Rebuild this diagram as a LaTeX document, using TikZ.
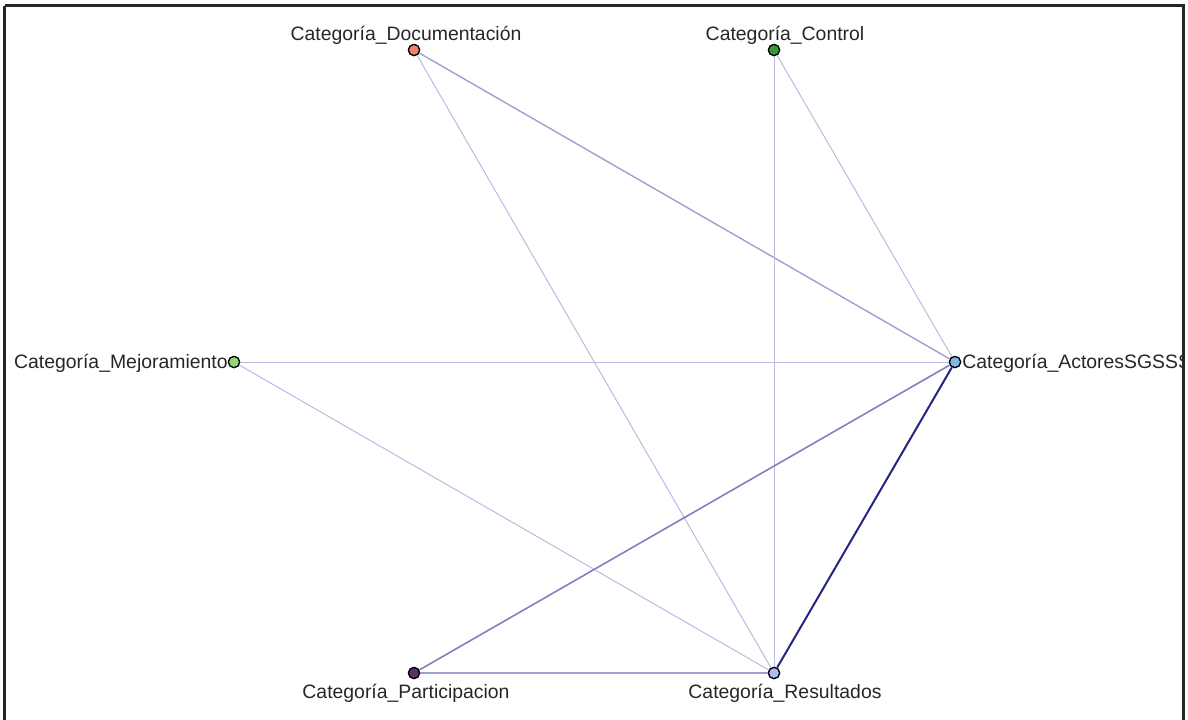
\documentclass[tikz,border=0pt]{standalone}
\usepackage{fontspec}
\setmainfont{Liberation Sans}
\usepackage{tikz}
\usetikzlibrary{positioning}
\definecolor{salmon}{RGB}{240, 128, 108}
\definecolor{leaf}{RGB}{56, 150, 60}
\definecolor{mint}{RGB}{150, 212, 120}
\definecolor{sky}{RGB}{128, 184, 232}
\definecolor{plum}{RGB}{88, 48, 108}
\definecolor{periwinkle}{RGB}{172, 188, 242}
\definecolor{lavender}{RGB}{186, 186, 226}
\definecolor{lilac}{RGB}{160, 160, 208}
\definecolor{iris}{RGB}{128, 128, 192}
\definecolor{navy}{RGB}{36, 36, 136}
\tikzstyle{cat} = [circle, draw=black, line width=0.6pt, inner sep=0pt, minimum size=5.6pt]
\tikzstyle{catlabel} = [draw=none, fill=none, inner sep=0pt, text=black!85, font=\fontsize{9.7pt}{11pt}\selectfont]
\tikzstyle{wedge} = [draw=lavender, line width=0.5pt]
\tikzstyle{medge} = [draw=lilac, line width=0.7pt]
\tikzstyle{sedge} = [draw=navy, line width=1pt]

\begin{document}
\begin{tikzpicture}[x=0.5pt, y=-0.5pt]
\useasboundingbox (0,0) rectangle (1188,719);

\begin{scope}
\clip (5.5,6.5) rectangle (1182.5,719);

% categories =============================
\node[cat, fill=salmon] (doc) at (414,50) {};
\node[cat, fill=leaf] (ctrl) at (774,50) {};
\node[cat, fill=mint] (mej) at (234,362) {};
\node[cat, fill=sky] (act) at (955,362) {};
\node[cat, fill=plum] (par) at (414,673) {};
\node[cat, fill=periwinkle] (res) at (774,673) {};

% edges
\path[wedge] (doc) -- (res);
\path[medge] (doc) -- (act);
\path[wedge] (ctrl) -- (act);
\path[wedge] (ctrl) -- (res);
\path[wedge] (mej) -- (act);
\path[wedge] (mej) -- (res);
\path[draw=iris, line width=0.8pt] (par) -- (act);
\path[medge, line width=0.9pt] (par) -- (res);
\path[sedge] (act) -- (res);

% redraw nodes over edges
\foreach \n/\c in {doc/salmon, ctrl/leaf, mej/mint, act/sky, par/plum, res/periwinkle}
  \node[cat, fill=\c] at (\n) {};

% labels
\node[catlabel, anchor=base] (docl) at (406,40) {Categoría\_Documentación};
\node[catlabel, anchor=base] (ctrll) at (785,40) {Categoría\_Control};
\node[catlabel, anchor=base east] (mejl) at (228,368) {Categoría\_Mejoramiento};
\node[catlabel, anchor=base west] (actl) at (962,368) {Categoría\_ActoresSGSSS};
\node[catlabel, anchor=base] (parl) at (406,698) {Categoría\_Participacion};
\node[catlabel, anchor=base] (resl) at (785,698) {Categoría\_Resultados};
\end{scope}

% frame
\draw[black!85, line width=1.5pt] (4.5,5.5) -- (1183.5,5.5) -- (1183.5,730);
\draw[black!85, line width=1.5pt] (4.5,5.5) -- (4.5,730);

\end{tikzpicture}
\end{document}
